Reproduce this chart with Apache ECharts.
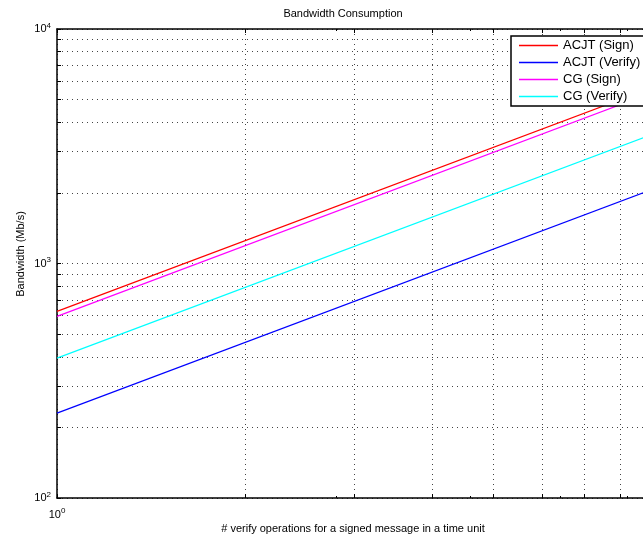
<!DOCTYPE html>
<html>
<head>
<meta charset="utf-8">
<script src="https://cdn.jsdelivr.net/npm/echarts@6/dist/echarts.min.js"></script>
<style>
  html, body { margin: 0; padding: 0; background: #fff; }
  #chart { width: 643px; height: 544px; }
</style>
</head>
<body>
<div id="chart"></div>
<script>
// Verify operations per signed message (x) at the two ends of the plotted range
const opsPerUnit = [1, 10];

// Bandwidth in Mb/s for each scheme at those x values
const acjtSign   = [625, 6250];
const acjtVerify = [230, 2300];
const cgSign     = [595, 5950];
const cgVerify   = [395, 3950];

// Log-scale tick positions (every integer multiple within each decade)
const xTickValues = [1, 2, 3, 4, 5, 6, 7, 8, 9, 10];
const yTickValues = [100, 200, 300, 400, 500, 600, 700, 800, 900,
                     1000, 2000, 3000, 4000, 5000, 6000, 7000, 8000, 9000, 10000];
const xLabelValues = [1];
const yLabelValues = [100, 1000, 10000];

const FONT = 'Liberation Sans, Arial, Helvetica, sans-serif';

const pairs = (xs, ys) => xs.map((x, i) => [x, ys[i]]);

const powLabel = v => '{b|10}{s|' + Math.round(Math.log10(v)) + '}';
const richPow = {
  b: { fontSize: 11, fontFamily: FONT, color: '#000' },
  s: { fontSize: 8, fontFamily: FONT, color: '#000', padding: [0, 0, 7, 0] }
};

const dotted = { color: '#444', width: 1, type: [1, 4] };

const chart = echarts.init(document.getElementById('chart'), null, { renderer: 'canvas' });

const mkSeries = (name, data, color) => ({
  name,
  type: 'line',
  data: pairs(opsPerUnit, data),
  symbol: 'none',
  lineStyle: { color, width: 1.2 },
  itemStyle: { color },
  silent: true,
  z: 3
});

chart.setOption({
  animation: false,
  backgroundColor: '#fff',
  grid: {
    left: 57, top: 29, bottom: 46, right: -38,
    outerBoundsMode: 'none',
    containLabel: false
  },
  legend: {
    orient: 'vertical',
    left: 511, top: 36,
    backgroundColor: '#fff',
    borderColor: '#000',
    borderWidth: 1.5,
    padding: [2, 8, 2, 8],
    icon: 'rect',
    itemWidth: 39,
    itemHeight: 1.3,
    itemGap: 2,
    textStyle: { fontSize: 13, fontFamily: FONT, color: '#000', lineHeight: 15 },
    data: ['ACJT (Sign)', 'ACJT (Verify)', 'CG (Sign)', 'CG (Verify)']
  },
  xAxis: [
    {
      type: 'log', logBase: 10, min: 1, max: 10,
      position: 'bottom',
      axisLine: { show: true, lineStyle: { color: '#000', width: 1.5 } },
      axisTick: { show: true, inside: true, length: 4, customValues: xTickValues, lineStyle: { color: '#000' } },
      minorTick: { show: true, splitNumber: 100, length: 2, lineStyle: { color: '#000' } },
      splitLine: { show: true, lineStyle: dotted },
      axisLabel: { customValues: xLabelValues, formatter: powLabel, rich: richPow, margin: 9 }
    },
    {
      type: 'log', logBase: 10, min: 1, max: 10,
      position: 'top',
      axisLine: { show: true, lineStyle: { color: '#000', width: 1.5 } },
      axisTick: { show: true, inside: true, length: 4, customValues: xTickValues, lineStyle: { color: '#000' } },
      minorTick: { show: true, splitNumber: 100, length: 2, lineStyle: { color: '#000' } },
      splitLine: { show: false },
      axisLabel: { show: false }
    }
  ],
  yAxis: {
    type: 'log', logBase: 10, min: 100, max: 10000,
    axisLine: { show: true, lineStyle: { color: '#000', width: 1.5 } },
    axisTick: { show: true, inside: true, length: 4, customValues: yTickValues, lineStyle: { color: '#000' } },
    splitLine: { show: true, lineStyle: dotted },
    axisLabel: { customValues: yLabelValues, formatter: powLabel, rich: richPow, margin: 6 }
  },
  graphic: [
    {
      type: 'text', x: 343, y: 14, silent: true,
      style: { text: 'Bandwidth Consumption', font: '11px ' + FONT, fill: '#000',
               textAlign: 'center', textVerticalAlign: 'middle' }
    },
    {
      type: 'text', x: 353, y: 529, silent: true,
      style: { text: '# verify operations for a signed message in a time unit', font: '11px ' + FONT,
               fill: '#000', textAlign: 'center', textVerticalAlign: 'middle' }
    },
    {
      type: 'text', x: 20.5, y: 254, rotation: Math.PI / 2, silent: true,
      style: { text: 'Bandwidth (Mb/s)', font: '11px ' + FONT, fill: '#000',
               textAlign: 'center', textVerticalAlign: 'middle' }
    }
  ],
  series: [
    mkSeries('ACJT (Sign)', acjtSign, '#ff0000'),
    mkSeries('ACJT (Verify)', acjtVerify, '#0000ff'),
    mkSeries('CG (Sign)', cgSign, '#ff00ff'),
    mkSeries('CG (Verify)', cgVerify, '#00ffff')
  ]
});
</script>
</body>
</html>
